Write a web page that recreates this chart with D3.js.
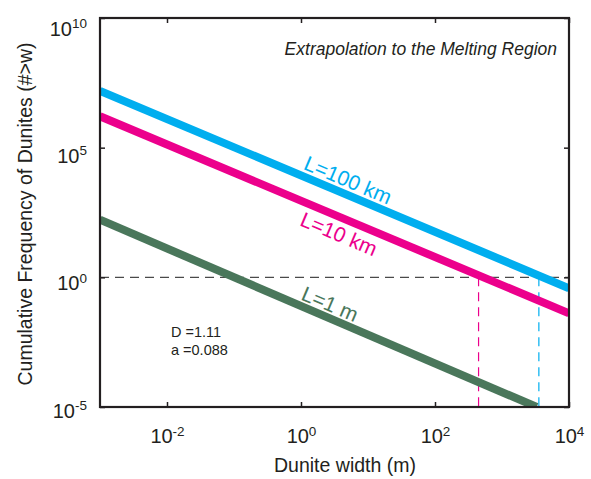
<!DOCTYPE html>
<html><head><meta charset="utf-8">
<script src="https://cdn.jsdelivr.net/npm/d3@7"></script>
<style>body{margin:0;background:#fff}text{font-family:"Liberation Sans",Arial,Helvetica,sans-serif}</style>
</head><body>
<svg id="c" width="591" height="479"></svg>
<script>
// ---- data ----
const seriesLabels = ["L=100 km", "L=10 km", "L=1 m"];
const blueW  = [0.001, 10000];  const blueN  = [1.55e7, 0.38];
const pinkW  = [0.001, 10000];  const pinkN  = [1.62e6, 0.041];
const greenW = [0.001, 3300];   const greenN = [166, 1e-5];
const thresholdN = 1;                 // horizontal dashed level
const crossW = [447, 3550];           // widths where L=10 km and L=100 km reach 1
const xTickValues = [1e-2, 1, 1e2, 1e4]; const xTickExps = ["-2", "0", "2", "4"];
const yTickValues = [1e-5, 1, 1e5, 1e10]; const yTickExps = ["-5", "0", "5", "10"];
const paramD = "1.11", paramA = "0.088";
const noteText = "Extrapolation to the Melting Region";
const xTitle = "Dunite width (m)", yTitle = "Cumulative Frequency of Dunites (#>w)";

// ---- styles ----
const COL_BLUE = "#00AEEF", COL_PINK = "#EC008C", COL_GREEN = "#4A775B", INK = "#231F20";

const svg = d3.select("#c");
const L = 100, R = 569, T = 18, B = 407;
const x = d3.scaleLog().domain([1e-3, 1e4]).range([L, R]);
const y = d3.scaleLog().domain([1e-5, 1e10]).range([B, T]);

svg.append("defs").append("clipPath").attr("id", "pa")
  .append("rect").attr("x", L).attr("y", T).attr("width", R - L).attr("height", B - T);

// dashed guides
svg.append("line").attr("x1", x(1e-3)).attr("x2", x(1e4)).attr("y1", y(thresholdN)).attr("y2", y(thresholdN))
  .attr("stroke", "#4a4a4a").attr("stroke-width", 1.2).attr("stroke-dasharray", "9,6");
const vcols = [COL_PINK, COL_BLUE];
crossW.forEach((w, i) => {
  svg.append("line").attr("x1", x(w)).attr("x2", x(w)).attr("y1", y(thresholdN)).attr("y2", y(1e-5))
    .attr("stroke", vcols[i]).attr("stroke-width", 1.2).attr("stroke-dasharray", "9,6");
});

// lines
const line = d3.line().x(d => x(d[0])).y(d => y(d[1]));
const series = [
  {w: blueW, n: blueN, c: COL_BLUE},
  {w: pinkW, n: pinkN, c: COL_PINK},
  {w: greenW, n: greenN, c: COL_GREEN}
];
const gl = svg.append("g").attr("clip-path", "url(#pa)");
series.forEach(s => {
  gl.append("path").datum(s.w.map((w, i) => [w, s.n[i]])).attr("d", line)
    .attr("fill", "none").attr("stroke", s.c).attr("stroke-width", 8);
});

// line labels
const labelPos = [[348, 180], [339, 234], [330, 304]];
seriesLabels.forEach((t, i) => {
  svg.append("text").attr("transform", `translate(${labelPos[i][0]},${labelPos[i][1]}) rotate(23)`)
    .attr("text-anchor", "middle").attr("dy", "0.35em").attr("font-size", 21)
    .attr("fill", series[i].c).text(t);
});

// axes
const sup = (sel, exps, vals) => sel.selectAll(".tick text").each(function(d) {
  const i = vals.indexOf(d);
  const t = d3.select(this); t.text(null);
  t.append("tspan").text("10");
  t.append("tspan").attr("dy", "-0.55em").attr("font-size", 13.5).text(exps[i]);
});
const gx = svg.append("g").attr("transform", `translate(0,${B})`)
  .call(d3.axisBottom(x).tickValues(xTickValues).tickFormat(() => "").tickSizeInner(-5).tickSizeOuter(0));
gx.selectAll(".tick text").attr("y", 36).attr("dy", 0).attr("font-size", 20).attr("fill", INK);
sup(gx, xTickExps, xTickValues);
gx.selectAll(".tick text").attr("text-anchor", "middle");

const gy = svg.append("g").attr("transform", `translate(${L},0)`)
  .call(d3.axisLeft(y).tickValues(yTickValues).tickFormat(() => "").tickSizeInner(-5).tickSizeOuter(0));
gy.selectAll(".tick text").attr("x", -13).attr("dy", 0).attr("font-size", 20).attr("fill", INK)
  .attr("text-anchor", "end")
  .attr("y", d => 17 - 7 * (y(d) - T) / (B - T));
sup(gy, yTickExps, yTickValues);

const gt = svg.append("g").attr("transform", `translate(0,${T})`)
  .call(d3.axisTop(x).tickValues(xTickValues).tickFormat(() => "").tickSizeInner(-5).tickSizeOuter(0));
const gr = svg.append("g").attr("transform", `translate(${R},0)`)
  .call(d3.axisRight(y).tickValues(yTickValues).tickFormat(() => "").tickSizeInner(-5).tickSizeOuter(0));
[gx, gy, gt, gr].forEach(g => {
  g.select(".domain").remove();
  g.selectAll(".tick line").attr("stroke", INK).attr("stroke-width", 1.5);
});
svg.append("rect").attr("x", L).attr("y", T).attr("width", R - L).attr("height", B - T)
  .attr("fill", "none").attr("stroke", INK).attr("stroke-width", 2.2);

// titles & notes
svg.append("text").attr("x", 345).attr("y", 472).attr("text-anchor", "middle").attr("font-size", 19.5)
  .attr("fill", INK).text(xTitle);
svg.append("text").attr("transform", "translate(32,214) rotate(-90)").attr("text-anchor", "middle")
  .attr("font-size", 19.5).attr("fill", INK).text(yTitle);
svg.append("text").attr("x", 557).attr("y", 55).attr("text-anchor", "end").attr("font-size", 17.5)
  .attr("font-style", "italic").attr("fill", INK).text(noteText);
svg.append("text").attr("x", 171).attr("y", 337).attr("font-size", 14.5).attr("fill", INK).text("D =" + paramD);
svg.append("text").attr("x", 171).attr("y", 355).attr("font-size", 14.5).attr("fill", INK).text("a =" + paramA);
</script>
</body></html>
